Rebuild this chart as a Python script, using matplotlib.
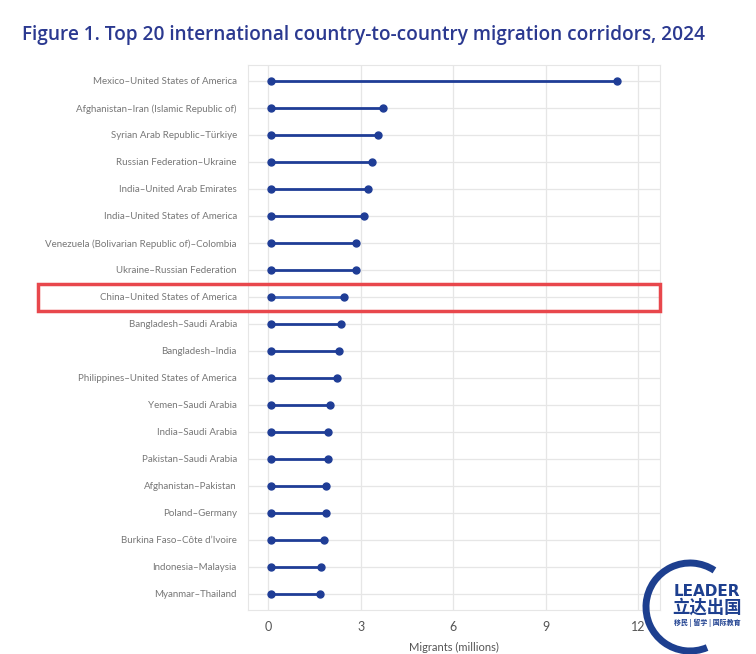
import matplotlib
matplotlib.use('Agg')
import matplotlib.pyplot as plt
from matplotlib.patches import Rectangle, Arc

corridors = [
    'Mexico–United States of America',
    'Afghanistan–Iran (Islamic Republic of)',
    'Syrian Arab Republic–Türkiye',
    'Russian Federation–Ukraine',
    'India–United Arab Emirates',
    'India–United States of America',
    'Venezuela (Bolivarian Republic of)–Colombia',
    'Ukraine–Russian Federation',
    'China–United States of America',
    'Bangladesh–Saudi Arabia',
    'Bangladesh–India',
    'Philippines–United States of America',
    'Yemen–Saudi Arabia',
    'India–Saudi Arabia',
    'Pakistan–Saudi Arabia',
    'Afghanistan–Pakistan',
    'Poland–Germany',
    'Burkina Faso–Côte d’Ivoire',
    'Indonesia–Malaysia',
    'Myanmar–Thailand',
]
migrants = [11.3, 3.74, 3.55, 3.38, 3.25, 3.12, 2.86, 2.86, 2.47, 2.37,
            2.31, 2.24, 2.02, 1.95, 1.95, 1.89, 1.89, 1.82, 1.72, 1.69]
start = 0.1
xticks = [0, 3, 6, 9, 12]
highlight = 'China–United States of America'

navy = '#1f3d96'
plt.rcParams['font.family'] = ['Lato', 'DejaVu Sans']

fig = plt.figure(figsize=(7.56, 6.54), dpi=100)
ax = fig.add_axes([0.328, 0.067, 0.545, 0.834])

ys = list(range(len(corridors)))
for y, name, v in zip(ys, corridors, migrants):
    col = '#3d62b8' if name == highlight else navy
    ax.plot([start, v], [y, y], color=col, lw=2, solid_capstyle='butt', zorder=3)
    ax.plot([start, v], [y, y], 'o', color=navy, ms=5, zorder=4)

ax.set_ylim(len(corridors) - 0.4, -0.6)
ax.set_xlim(-0.65, 12.7)
ax.set_yticks(ys)
ax.set_yticklabels(corridors, fontsize=7, color='#777777')
ax.set_xticks(xticks)
ax.set_xticklabels([str(t) for t in xticks], fontsize=9, color='#555555')
ax.set_xlabel('Migrants (millions)', fontsize=8, color='#555555', labelpad=6)
ax.tick_params(length=0, pad=8)
ax.grid(True, color='#e6e6e6', lw=0.9)
ax.set_axisbelow(True)
for s in ax.spines.values():
    s.set_color('#e6e6e6')

fig.text(0.029, 0.947, 'Figure 1. Top 20 international country-to-country migration corridors, 2024',
         fontsize=13.7, fontweight='semibold', color='#2b3990', family='Open Sans', va='center')

# highlight box
fig.add_artist(Rectangle((38 / 756, 1 - 311 / 654), 622 / 756, 27 / 654,
                         transform=fig.transFigure, fill=False, ec='#e8474c', lw=2.5))

# watermark logo
fig.add_artist(Arc((690 / 756, 1 - 607 / 654), 88 / 756, 88 / 654, theta1=60, theta2=290,
                   transform=fig.transFigure, color='#1d3f8f', lw=5))
fig.text(707 / 756, 1 - 592 / 654, 'LEADER', fontsize=11, fontweight='bold', color='#1d3f8f',
         ha='center', va='center', family='DejaVu Sans')
fig.text(707 / 756, 1 - 608 / 654, '立达出国', fontsize=12.5, fontweight='bold', color='#1d3f8f',
         ha='center', va='center', family=['Noto Sans CJK SC', 'DejaVu Sans'])
fig.text(707 / 756, 1 - 623 / 654, '移民 | 留学 | 国际教育', fontsize=5, fontweight='bold', color='#1d3f8f',
         ha='center', va='center', family=['Noto Sans CJK SC', 'DejaVu Sans'])

fig.savefig('out.png', dpi=100)
